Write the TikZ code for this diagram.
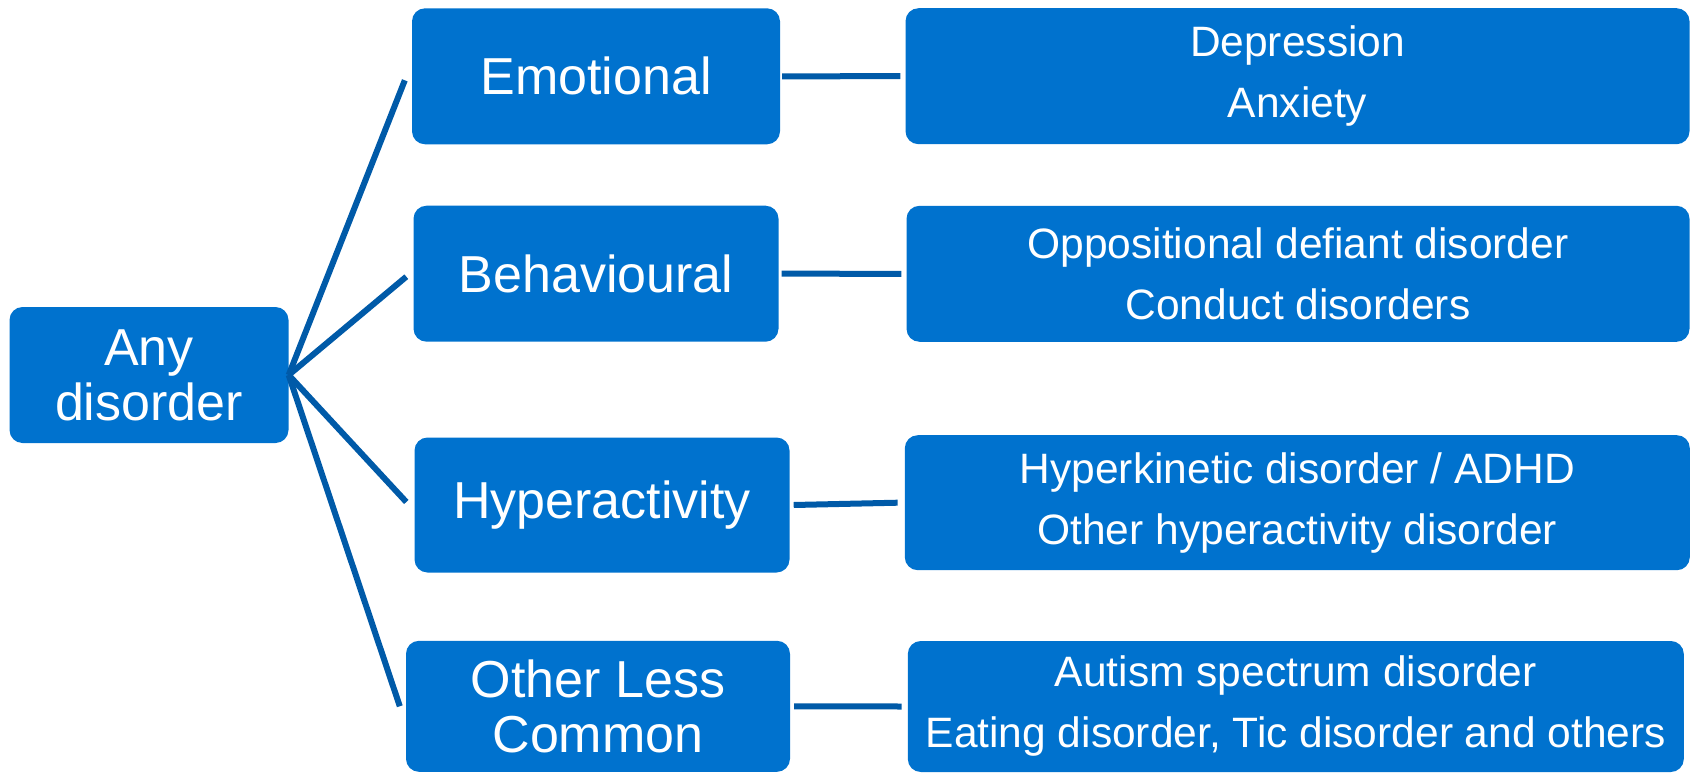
\documentclass[tikz,border=0pt]{standalone}
\usepackage{fontspec}
\setmainfont{Liberation Sans}
\usetikzlibrary{calc}
\definecolor{boxblue}{RGB}{0,114,206}
\definecolor{linkblue}{RGB}{0,90,168}

\begin{document}
\begin{tikzpicture}[x=1pt,y=-1pt,
  every node/.style={text=white,align=center},
  box/.style={rectangle,rounded corners=13pt,fill=boxblue,inner sep=0pt},
  big/.style={box,font=\fontsize{52}{55}\selectfont},
  small/.style={box,font=\fontsize{42.5}{61}\selectfont},
  link/.style={draw=linkblue,line width=6pt}]
  \useasboundingbox (0,0) rectangle (1694,773);
  % root and the four groups
  \node[big,minimum width=279pt,minimum height=136pt] (any) at (149,375) {Any\\disorder};
  \node[big,minimum width=368pt,minimum height=136pt] (emo) at (596,76.3) {Emotional};
  \node[big,minimum width=365pt,minimum height=136pt] (beh) at (596,273.7) {Behavioural};
  \node[big,minimum width=375pt,minimum height=135pt] (hyp) at (602,505) {Hyperactivity};
  \node[big,minimum width=384pt,minimum height=131pt] (oth) at (598,706.3) {Other Less\\Common};
  % disorders in each group
  \node[small,minimum width=784pt,minimum height=136pt] (dep) at (1297.5,76.2) {Depression\\Anxiety};
  \node[small,minimum width=783pt,minimum height=136pt] (odd) at (1298,273.8) {Oppositional defiant disorder\\Conduct disorders};
  \node[small,minimum width=785pt,minimum height=135pt] (hkd) at (1297.3,502.7) {Hyperkinetic disorder / ADHD\\Other hyperactivity disorder};
  \node[small,minimum width=776pt,minimum height=131pt] (asd) at (1295.8,706.5) {Autism spectrum disorder\\Eating disorder, Tic disorder and others};
  % fan out from the root
  \draw[link] (any.east) -- ([xshift=-7pt,yshift=-4pt]emo.west);
  \draw[link] (any.east) -- ([xshift=-7pt,yshift=-3pt]beh.west);
  \draw[link] (any.east) -- ([xshift=-8pt,yshift=3pt]hyp.west);
  \draw[link] (any.east) -- ([xshift=-6pt]oth.west);
  % group to list
  \draw[link] ([xshift=2pt]emo.east) -- ([xshift=-5pt]dep.west);
  \draw[link] ([xshift=3pt]beh.east) -- ([xshift=-5pt]odd.west);
  \draw[link] ([xshift=4pt]hyp.east) -- ([xshift=-7pt]hkd.west);
  \draw[link] ([xshift=4pt]oth.east) -- ([xshift=-6pt]asd.west);
\end{tikzpicture}
\end{document}
